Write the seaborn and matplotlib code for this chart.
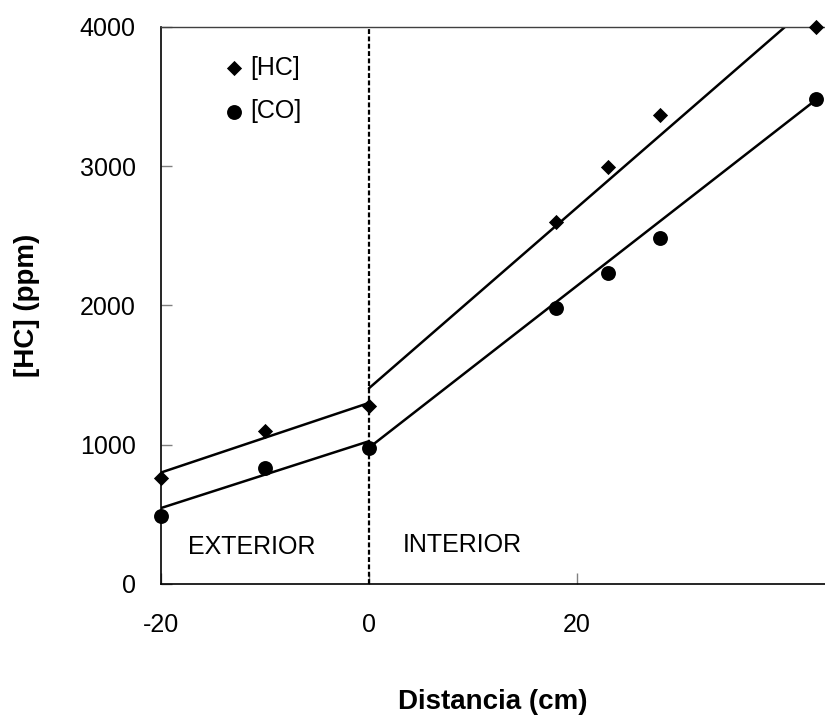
import matplotlib
matplotlib.use("Agg")
import matplotlib.pyplot as plt
import seaborn as sns

# measured points
distancia = [-20, -10, 0, 18, 23, 28, 43]
hc = [760, 1100, 1280, 2600, 2995, 3365, 4000]
co = [490, 835, 980, 1980, 2235, 2485, 3480]

# fitted lines, end points (exterior / interior)
hc_ext_x = [-20, 0]
hc_ext_y = [800, 1300]
hc_int_x = [0, 40]
hc_int_y = [1405, 4000]
co_ext_x = [-20, 0]
co_ext_y = [545, 1025]
co_int_x = [0, 43]
co_int_y = [978, 3478]

x_ticks = [-20, 0, 20]
y_ticks = [0, 1000, 2000, 3000, 4000]

sns.set_style("white")
plt.rcParams['font.family'] = ['Liberation Sans', 'DejaVu Sans']
plt.rcParams['text.color'] = 'black'
plt.rcParams['axes.labelcolor'] = 'black'

fig = plt.figure(figsize=(8.25, 7.23), dpi=100)
ax = fig.add_axes([0.195, 0.1923, 0.805, 0.7704])

# fit lines
for lx, ly in [(hc_ext_x, hc_ext_y), (hc_int_x, hc_int_y),
               (co_ext_x, co_ext_y), (co_int_x, co_int_y)]:
    sns.lineplot(x=lx, y=ly, color='black', linewidth=1.8, ax=ax, sort=False)

ax.axvline(0, color='black', linestyle=(0, (2.2, 1.1)), linewidth=1.6, zorder=2)

sns.scatterplot(x=distancia, y=hc, marker='D', s=60, color='black',
                edgecolor='black', linewidth=0, label='[HC]', ax=ax,
                clip_on=False, zorder=3)
sns.scatterplot(x=distancia, y=co, marker='o', s=115, color='black',
                edgecolor='black', linewidth=0, label='[CO]', ax=ax,
                clip_on=False, zorder=3)

ax.set_xlim(-20, 43.85)
ax.set_ylim(0, 4000)
ax.set_xticks(x_ticks)
ax.set_yticks(y_ticks)
ax.set_xticklabels([str(t) for t in x_ticks])
ax.set_yticklabels([str(t) for t in y_ticks])

ax.tick_params(axis='both', direction='in', length=8, width=1,
               color='#808080', labelsize=18, labelcolor='black',
               left=True, bottom=True)
ax.tick_params(axis='y', pad=18)
ax.tick_params(axis='x', pad=21)

ax.spines['right'].set_visible(False)
ax.spines['top'].set_color('#404040')
ax.spines['top'].set_linewidth(1.0)
for s in ['left', 'bottom']:
    ax.spines[s].set_color('black')
    ax.spines[s].set_linewidth(1.2)

ax.set_xlabel('Distancia (cm)', fontsize=20, fontweight='bold', labelpad=37)
ax.set_ylabel('[HC] (ppm)', fontsize=20, fontweight='bold', labelpad=29)

ax.text(-17.4, 266, 'EXTERIOR', fontsize=18, va='center')
ax.text(3.3, 280, 'INTERIOR', fontsize=18, va='center')

ax.legend(loc='upper left', bbox_to_anchor=(0.092, 0.948), frameon=False,
          fontsize=18, handletextpad=0.15, labelspacing=0.78,
          borderaxespad=0, borderpad=0, handlelength=1.0)

fig.savefig('out.png', dpi=100)
